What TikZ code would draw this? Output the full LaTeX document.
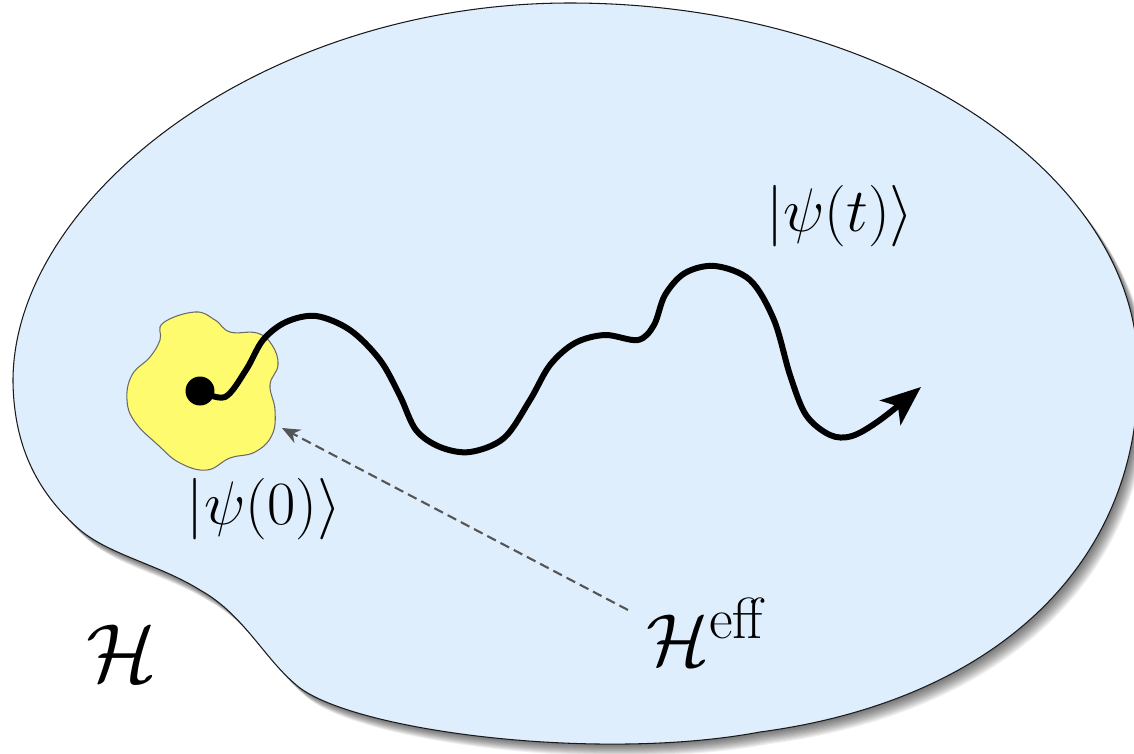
\RequirePackage{fix-cm}
\documentclass[tikz,border=0pt]{standalone}
\usepackage{amsmath}
\usetikzlibrary{arrows.meta}
\definecolor{HilbertFill}{HTML}{DFEEFD}
\definecolor{HilbertLine}{HTML}{1A1A1A}
\definecolor{BlobFill}{HTML}{FFFB6E}
\definecolor{BlobLine}{HTML}{6A6A6A}
\definecolor{DashGray}{HTML}{555555}
\tikzset{
  hilbert outline/.style={insert path={
    (13,382) .. controls (12,200) and (260,3) .. (570,3)
    .. controls (880,3) and (1140,170) .. (1138,372)
    .. controls (1140,560) and (1000,700) .. (760,732)
    .. controls (600,762) and (360,732) .. (300,688)
    .. controls (265,661) and (245,615) .. (200,590)
    .. controls (160,565) and (110,555) .. (80,530)
    .. controls (40,495) and (14,450) .. (13,382) -- cycle}},
  hilbert space/.style={fill=HilbertFill,draw=HilbertLine,line width=0.6pt},
  hilbert shadow/.style={fill=black,fill opacity=0.06,draw=none},
  initial blob/.style={fill=BlobFill,draw=BlobLine,line width=0.6pt},
  state dot/.style={circle,fill=black,inner sep=0pt,minimum size=0.58cm},
  trajectory/.style={-{Stealth[length=0.8cm,width=0.64cm,inset=0.2cm]},line width=3.4pt,line cap=round},
  effective/.style={-{Stealth[length=0.36cm,width=0.3cm]},draw=DashGray,dashed,dash pattern=on 5.5pt off 3pt,line width=1.2pt},
  big label/.style={inner sep=0pt,font=\fontsize{35}{42}\selectfont}
}

\begin{document}
\begin{tikzpicture}[x=0.02cm,y=-0.02cm]
  \useasboundingbox (0,0) rectangle (1134,754);
  \clip (0,0) rectangle (1134,754);

  % soft shadow under the Hilbert space
  \foreach \i in {1,...,12}
    \path[hilbert shadow,shift={(0.85*\i,\i)}] [hilbert outline];
  \path[hilbert space] [hilbert outline];

  % neighbourhood of the initial state
  \draw[initial blob] plot[smooth cycle,tension=0.7] coordinates {
    (163,323) (195,312) (215,320) (230,332) (257,333) (272,345) (278,365)
    (270,385) (275,410) (272,435) (255,452) (230,458) (207,470) (180,463)
    (158,445) (135,422) (127,400) (132,375) (150,357) (160,340)};

  \node[state dot] (start) at (200,391) {};
  \coordinate (tip) at (921,387);
  \coordinate (blobedge) at (282,428);
  \coordinate (dashstart) at (628,610);

  \node[big label] (psit) at (840,216) {$|\psi(t)\rangle$};
  \node[big label] (psi0) at (264,509) {$|\psi(0)\rangle$};
  \node[big label,anchor=base west,font=\fontsize{42}{50}\selectfont] (heff) at (646,665)
    {$\mathcal{H}^{\mbox{\fontsize{33}{40}\selectfont eff}}$};
  \node[big label,anchor=base west,font=\fontsize{47}{56}\selectfont] (hspace) at (86,681) {$\mathcal{H}$};

  \draw[trajectory] plot[smooth,tension=0.55] coordinates {
    (start) (225,397) (246,370) (263,340) (286,322) (316,316) (350,330)
    (380,360) (400,396) (416,430) (440,447) (470,452) (504,438) (530,400)
    (550,365) (575,343) (605,335) (638,340) (654,325) (665,295) (685,273)
    (715,266) (750,280) (774,320) (790,375) (806,415) (830,435) (852,436)
    (880,420) (tip)};

  \draw[effective] (dashstart) -- (blobedge);
\end{tikzpicture}
\end{document}
